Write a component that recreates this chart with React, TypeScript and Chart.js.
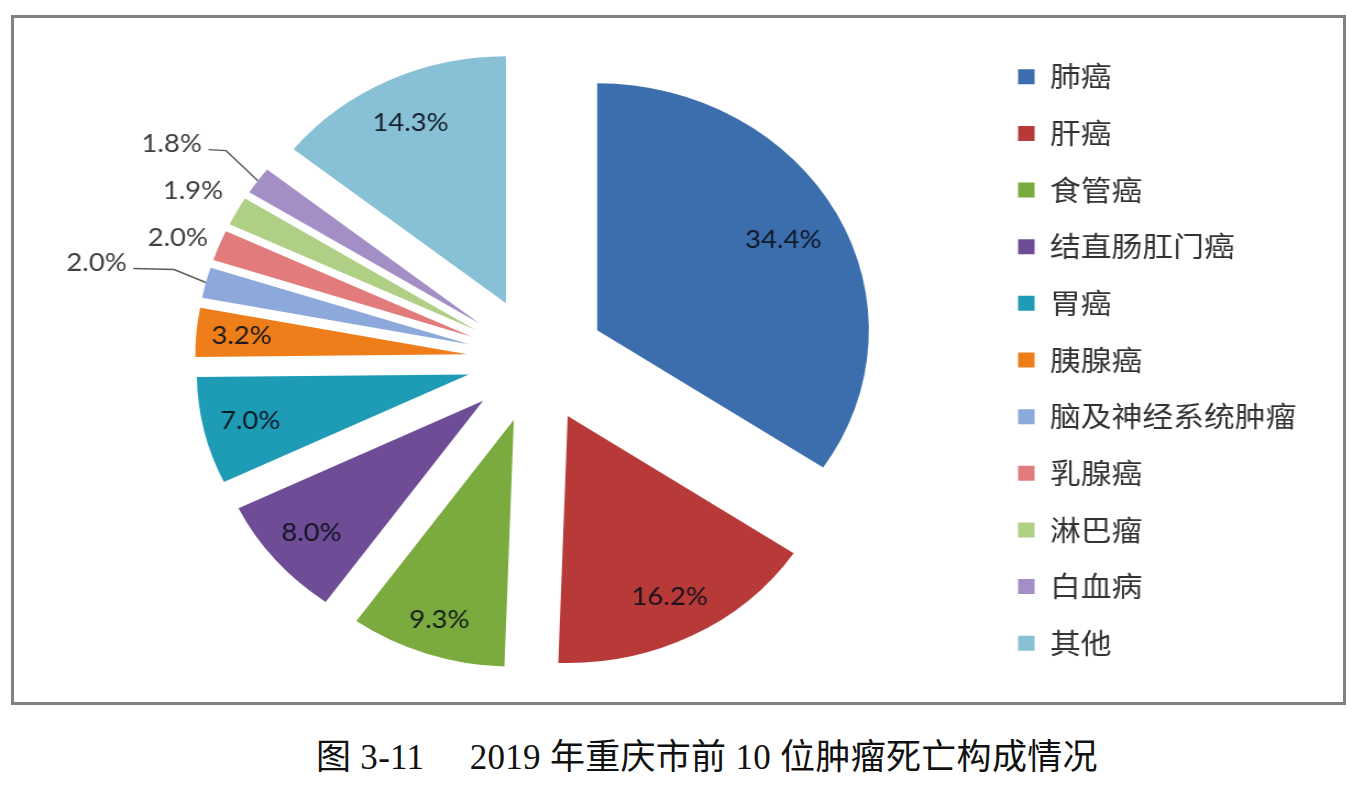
import React, { useEffect, useRef } from "react";
import { Chart, registerables } from "chart.js";

Chart.register(...registerables);

// ---- data ----
const categories = [
  "肺癌",
  "肝癌",
  "食管癌",
  "结直肠肛门癌",
  "胃癌",
  "胰腺癌",
  "脑及神经系统肿瘤",
  "乳腺癌",
  "淋巴瘤",
  "白血病",
  "其他",
];
const shares = [34.4, 16.2, 9.3, 8.0, 7.0, 3.2, 2.0, 2.0, 1.9, 1.8, 14.3];
const labelTexts = shares.map((v) => v.toFixed(1) + "%");
const captionText = "图 3-11\u00a0\u00a0\u00a0\u00a0\u00a02019 年重庆市前 10 位肿瘤死亡构成情况";

// ---- styles ----
const sliceColors = [
  "#3C6EAE",
  "#B83A38",
  "#7BAA3E",
  "#6E4C96",
  "#1E9BB5",
  "#EE7E1A",
  "#8DA8DB",
  "#E27C7C",
  "#AECF84",
  "#A38FC6",
  "#88C1D5",
];
// label distance from the slice tip, as a fraction of the radius
const labelRadius = [0.777, 0.822, 0.855, 0.827, 0.826, 0.833, 1.41, 1.153, 1.182, 1.347, 0.81];
const labelAngleShift = [0, 0, 0, 0, 0, 0, -0.9, -1.4, -0.2, -2.6, 0];
const leaderRun = [0, 0, 0, 0, 0, 0, 37, 0, 0, 16, 0];

const STRETCH = 1.1;
const CANVAS_W = 1236;
const CANVAS_H = 720;
const RADIUS = 247;
const EXPLODE = 63;

// Chart.js enlarges the radius and trims the angle of offset arcs;
// undo that so every exploded slice keeps its true radius and angle.
const arcFix = {
  id: "arcFix",
  beforeDatasetsDraw(chart: any) {
    const meta = chart.getDatasetMeta(0);
    meta.data.forEach((arc: any) => {
      const circ = arc.circumference;
      const fix = 1 - Math.sin(Math.min(Math.PI, circ));
      const ro = EXPLODE * fix;
      arc.outerRadius = RADIUS - ro;
      const half = (arc.startAngle + arc.endAngle) / 2;
      const widen = ro / Math.PI / RADIUS;
      arc.startAngle = half - circ / 2 - widen / 2;
      arc.endAngle = half + circ / 2 + widen / 2;
    });
  },
};

const sliceLabels = {
  id: "sliceLabels",
  afterDatasetsDraw(chart: any) {
    const ctx = chart.ctx as CanvasRenderingContext2D;
    const meta = chart.getDatasetMeta(0);
    ctx.save();
    ctx.font = "25px Lato";
    ctx.textAlign = "center";
    ctx.textBaseline = "middle";
    meta.data.forEach((arc: any, i: number) => {
      const mid = (arc.startAngle + arc.endAngle) / 2;
      const vx = arc.x + Math.cos(mid) * EXPLODE;
      const vy = arc.y + Math.sin(mid) * EXPLODE;
      const a = mid + (labelAngleShift[i] * Math.PI) / 180;
      const r = RADIUS * labelRadius[i];
      const lx = vx + Math.cos(a) * r;
      const ly = vy + Math.sin(a) * r;
      const inside = labelRadius[i] < 1;
      ctx.fillStyle = inside ? "rgba(10,14,25,0.9)" : "#404040";
      ctx.fillText(labelTexts[i], lx, ly);
      if (leaderRun[i] > 0) {
        const tw = ctx.measureText(labelTexts[i]).width;
        const sx = lx + tw / 2 + 6;
        const sy = ly + 6;
        const ex = vx + Math.cos(mid) * RADIUS;
        const ey = vy + Math.sin(mid) * RADIUS;
        ctx.beginPath();
        ctx.moveTo(sx, sy);
        ctx.lineTo(sx + leaderRun[i], sy + 1);
        ctx.lineTo(ex, ey);
        ctx.strokeStyle = "#5a5a5a";
        ctx.lineWidth = 1.4;
        ctx.stroke();
      }
    });
    ctx.restore();
  },
};

export default function App() {
  const ref = useRef<HTMLCanvasElement | null>(null);

  useEffect(() => {
    if (!ref.current) return;
    const chart = new Chart(ref.current, {
      type: "pie",
      data: {
        labels: categories,
        datasets: [
          {
            data: shares,
            backgroundColor: sliceColors,
            borderWidth: 0,
            offset: EXPLODE * 4,
            hoverOffset: 0,
          },
        ],
      },
      options: {
        responsive: false,
        animation: false,
        radius: RADIUS,
        layout: { padding: { left: 77.75, right: 47.5, top: 0, bottom: 0 } },
        plugins: {
          legend: {
            position: "right",
            align: "center",
            labels: {
              font: { family: '"Noto Sans CJK SC"', size: 28 },
              color: "#333333",
              boxWidth: 15,
              boxHeight: 15,
              padding: 28.65,
            },
          },
          tooltip: { enabled: false },
        },
      } as any,
      plugins: [arcFix, sliceLabels],
    });
    return () => chart.destroy();
  }, []);

  return (
    <div style={{ position: "absolute", left: 0, top: 0, width: 1360, height: 794, background: "#ffffff" }}>
      <div
        style={{
          position: "absolute",
          left: 11,
          top: 15,
          width: 1335,
          height: 690,
          boxSizing: "border-box",
          border: "3px solid #808080",
        }}
      />
      <div
        style={{
          position: "absolute",
          left: 0,
          top: 0,
          width: CANVAS_W,
          height: CANVAS_H,
          transform: `scaleX(${STRETCH})`,
          transformOrigin: "0 0",
        }}
      >
        <canvas ref={ref} width={CANVAS_W} height={CANVAS_H} />
      </div>
      <div
        style={{
          position: "absolute",
          left: 316,
          top: 740,
          fontFamily: '"Liberation Serif", "Noto Sans CJK SC", serif',
          fontSize: 35,
          lineHeight: "35px",
          letterSpacing: "0.3px",
          whiteSpace: "pre",
          color: "#111",
        }}
      >
        {captionText}
      </div>
    </div>
  );
}
